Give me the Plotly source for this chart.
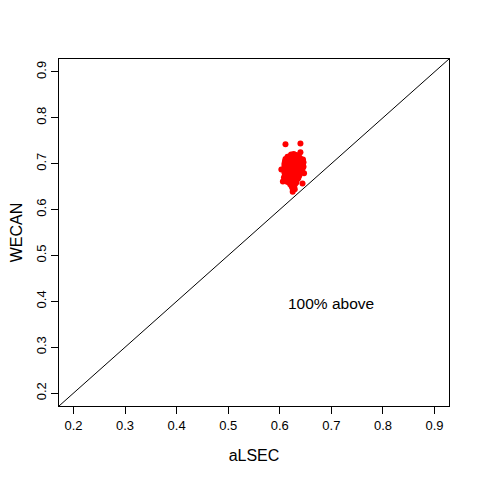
import plotly.graph_objects as go

# aLSEC (x) and WECAN (y) values
alsec = [
    0.611, 0.640,
    0.640,
    0.622, 0.627, 0.632,
    0.615, 0.619, 0.624, 0.629, 0.634, 0.638,
    0.611, 0.616, 0.621, 0.626, 0.630, 0.635, 0.641, 0.645,
    0.610, 0.614, 0.618, 0.623, 0.628, 0.632, 0.637, 0.642, 0.646,
    0.609, 0.613, 0.617, 0.622, 0.626, 0.631, 0.636, 0.640, 0.645,
    0.609, 0.614, 0.619, 0.624, 0.628, 0.633, 0.638, 0.643, 0.646,
    0.610, 0.615, 0.620, 0.625, 0.630, 0.634, 0.639, 0.644,
    0.603, 0.611, 0.616, 0.621, 0.627, 0.632, 0.637, 0.642,
    0.609, 0.614, 0.619, 0.624, 0.629, 0.634, 0.639, 0.647,
    0.610, 0.616, 0.622, 0.627, 0.633, 0.638,
    0.608, 0.613, 0.620, 0.625, 0.631, 0.636,
    0.611, 0.618, 0.624, 0.629, 0.634,
    0.606, 0.615, 0.622, 0.627, 0.632,
    0.644,
    0.620, 0.626, 0.630,
    0.623, 0.628,
    0.625, 0.629,
    0.625,
]
wecan = [
    0.742, 0.744,
    0.725,
    0.720, 0.721, 0.719,
    0.715, 0.716, 0.714, 0.716, 0.715, 0.714,
    0.710, 0.711, 0.709, 0.710, 0.711, 0.709, 0.710, 0.709,
    0.705, 0.706, 0.704, 0.705, 0.706, 0.704, 0.705, 0.704, 0.703,
    0.700, 0.701, 0.699, 0.700, 0.701, 0.699, 0.700, 0.701, 0.699,
    0.695, 0.696, 0.694, 0.695, 0.696, 0.694, 0.695, 0.694, 0.693,
    0.690, 0.691, 0.689, 0.690, 0.691, 0.689, 0.690, 0.689,
    0.687, 0.686, 0.685, 0.686, 0.685, 0.686, 0.685, 0.686,
    0.680, 0.681, 0.679, 0.680, 0.681, 0.679, 0.680, 0.679,
    0.675, 0.676, 0.674, 0.675, 0.676, 0.674,
    0.670, 0.671, 0.669, 0.670, 0.671, 0.669,
    0.665, 0.666, 0.664, 0.665, 0.666,
    0.661, 0.660, 0.661, 0.660, 0.659,
    0.657,
    0.655, 0.654, 0.656,
    0.650, 0.649,
    0.645, 0.644,
    0.639,
]

diag = [0.0, 1.0]
xticks = [0.2, 0.3, 0.4, 0.5, 0.6, 0.7, 0.8, 0.9]
yticks = [0.2, 0.3, 0.4, 0.5, 0.6, 0.7, 0.8, 0.9]
ax_range = [0.172, 0.928]

fig = go.Figure()
fig.add_trace(go.Scatter(x=diag, y=diag, mode="lines",
                         line=dict(color="black", width=1), hoverinfo="skip"))
fig.add_trace(go.Scatter(x=alsec, y=wecan, mode="markers",
                         marker=dict(color="red", size=6, line=dict(width=0))))

fig.add_annotation(x=0.7, y=0.4, text="100% above", showarrow=False,
                   yshift=-2, font=dict(size=15.5, color="black"))

axis_common = dict(range=ax_range, showgrid=False, zeroline=False,
                   showline=True, linecolor="black", linewidth=1, mirror=True,
                   ticks="outside", ticklen=7, tickcolor="black", tickwidth=1,
                   tickfont=dict(size=13, color="black"), automargin=False)

fig.update_layout(
    width=480, height=480,
    margin=dict(l=51, r=39, t=51, b=82),
    paper_bgcolor="white", plot_bgcolor="white",
    showlegend=False,
    font=dict(family="Liberation Sans, Arial, sans-serif", color="black"),
)
fig.update_xaxes(**axis_common, tickvals=xticks, ticktext=[str(v) for v in xticks],
                 title=dict(text="aLSEC", font=dict(size=16), standoff=18))
fig.update_yaxes(**axis_common, tickvals=yticks, ticktext=[str(v) for v in yticks],
                 tickangle=-90,
                 title=dict(text="WECAN", font=dict(size=16), standoff=16))

fig.write_html("out.html")
